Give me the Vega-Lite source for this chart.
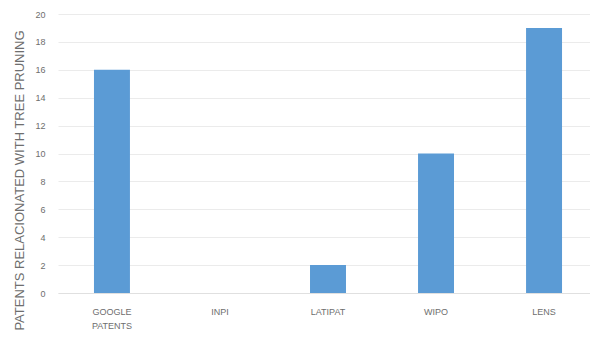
{
  "$schema": "https://vega.github.io/schema/vega-lite/v6.json",
  "autosize": "none",
  "padding": {"left": 58, "top": 14, "right": 0, "bottom": 44},
  "width": 540,
  "height": 279,
  "background": "white",
  "data": {"values": [
    {"source": "GOOGLE PATENTS", "patents": 16},
    {"source": "INPI", "patents": 0},
    {"source": "LATIPAT", "patents": 2},
    {"source": "WIPO", "patents": 10},
    {"source": "LENS", "patents": 19}
  ]},
  "mark": {"type": "bar", "color": "#5B9BD5"},
  "encoding": {
    "x": {
      "field": "source", "type": "nominal", "sort": null,
      "scale": {"paddingInner": 0.667, "paddingOuter": 0.333},
      "axis": {
        "title": null, "labelAngle": 0, "ticks": false,
        "domainColor": "#E0E0E0", "labelColor": "#6E6E6E",
        "labelFont": "Liberation Sans", "labelFontSize": 9,
        "labelPadding": 14, "labelLineHeight": 14,
        "labelExpr": "split(datum.label, ' ')"
      }
    },
    "y": {
      "field": "patents", "type": "quantitative",
      "scale": {"domain": [0, 20]},
      "axis": {
        "title": "PATENTS RELACIONATED WITH TREE PRUNING",
        "values": [0, 2, 4, 6, 8, 10, 12, 14, 16, 18, 20],
        "domain": false, "ticks": false, "gridColor": "#EBEBEB",
        "labelColor": "#6E6E6E", "labelFont": "Liberation Sans", "labelFontSize": 9,
        "labelPadding": 13,
        "titleColor": "#6E6E6E", "titleFont": "Liberation Sans", "titleFontSize": 13,
        "titleFontWeight": "normal",
        "titleX": -39, "titleY": 166, "titleAlign": "center", "titleBaseline": "middle", "titleAngle": -90
      }
    }
  },
  "config": {"view": {"stroke": null}}
}
